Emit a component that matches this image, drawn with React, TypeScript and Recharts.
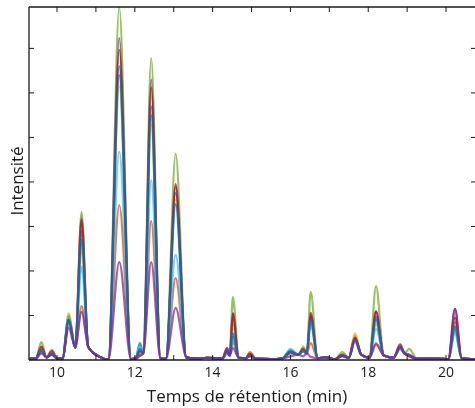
import { Label, Line, LineChart, XAxis, YAxis } from "recharts";

// retention times of the curve knots (min)
const knotTimes = [
  9.3, 9.45, 9.6, 9.73, 9.87, 10.0, 10.14, 10.3, 10.47, 10.63,
  10.8, 10.95, 11.1, 11.32, 11.6, 11.9, 12.02, 12.13, 12.22, 12.42,
  12.66, 12.8, 13.05, 13.32, 13.6, 13.85, 14.25, 14.37, 14.44, 14.52,
  14.67, 14.85, 14.96, 15.1, 15.5, 15.8, 16.0, 16.2, 16.33, 16.42,
  16.52, 16.7, 16.9, 17.15, 17.33, 17.5, 17.66, 17.82, 18.03, 18.2,
  18.4, 18.65, 18.82, 18.93, 19.05, 19.25, 19.8, 20.06, 20.23, 20.4,
  20.75,
];

// shared baseline / valley levels, null where a peak apex sits
const baseLevels: (number | null)[] = [
  0.03, 0.03, null, 0.06, null, 0.03, 0.03, null, 0.28, null,
  0.3, 0.15, 0.07, 0.01, null, 0.02, 0.03, null, 0.15, null,
  0.03, 0.03, null, 0.06, 0.03, 0.05, 0.03, null, 0.1, null,
  0.05, 0.04, null, 0.03, 0.02, 0.04, null, 0.12, null, 0.15,
  null, 0.04, 0.06, 0.02, null, 0.05, null, 0.12, 0.05, null,
  0.1, 0.05, null, 0.15, null, 0.03, 0.03, 0.02, null, 0.04,
  0.02,
];

// apex heights per sample, peaks in retention order
const greenPeaks = [0.4, 0.15, 1.0, 3.33, 7.93, 0.12, 6.78, 4.63, 0.2, 1.42, 0.1, 0.2, 0.3, 1.53, 0.18, 0.5, 1.66, 0.3, 0.25, 0.65];
const purplePeaks = [0.25, 0.15, 0.95, 3.2, 7.23, 0.1, 6.3, 3.89, 0.27, 1.05, 0.12, 0.15, 0.2, 1.0, 0.1, 0.5, 1.1, 0.35, 0.1, 1.15];
const redPeaks = [0.3, 0.2, 0.9, 3.15, 6.97, 0.2, 6.13, 3.95, 0.2, 1.05, 0.15, 0.18, 0.25, 1.06, 0.12, 0.5, 1.08, 0.3, 0.12, 0.95];
const bluePeaks = [0.2, 0.12, 0.85, 2.9, 6.6, 0.38, 5.7, 3.75, 0.15, 0.52, 0.12, 0.22, 0.22, 0.95, 0.1, 0.45, 0.97, 0.25, 0.1, 0.7];
const yellowPeaks = [0.3, 0.22, 1.05, 2.5, 6.15, 0.15, 5.28, 3.6, 0.2, 0.8, 0.18, 0.2, 0.25, 0.8, 0.12, 0.6, 0.8, 0.35, 0.12, 0.8];
const lightBluePeaks = [0.25, 0.15, 0.95, 2.1, 4.68, 0.3, 4.04, 2.36, 0.15, 0.5, 0.1, 0.25, 0.2, 0.85, 0.1, 0.4, 0.7, 0.25, 0.12, 0.6];
const orangePeaks = [0.2, 0.22, 0.85, 1.21, 3.48, 0.2, 3.12, 1.84, 0.2, 0.4, 0.18, 0.18, 0.2, 0.38, 0.12, 0.55, 0.38, 0.3, 0.1, 0.85];
const purple2Peaks = [0.15, 0.12, 0.72, 1.08, 2.2, 0.1, 2.2, 1.17, 0.27, 0.27, 0.08, 0.08, 0.08, 0.07, 0.08, 0.45, 0.35, 0.3, 0.08, 1.15];
const blue2Peaks = [0.22, 0.15, 0.9, 2.7, 6.4, 0.25, 5.5, 3.5, 0.18, 0.6, 0.1, 0.2, 0.2, 0.9, 0.1, 0.45, 0.9, 0.28, 0.1, 0.75];

const xTicks = [10, 11, 12, 13, 14, 15, 16, 17, 18, 19, 20];
const yTicks = [1, 2, 3, 4, 5, 6, 7];

const series = [
  { key: "s1", color: "#0072BD", peaks: bluePeaks },
  { key: "s2", color: "#D95319", peaks: orangePeaks },
  { key: "s3", color: "#EDB120", peaks: yellowPeaks },
  { key: "s4", color: "#7E2F8E", peaks: purplePeaks },
  { key: "s5", color: "#77AC30", peaks: greenPeaks },
  { key: "s6", color: "#4DBEEE", peaks: lightBluePeaks },
  { key: "s7", color: "#A2142F", peaks: redPeaks },
  { key: "s8", color: "#0072BD", peaks: blue2Peaks },
  { key: "s9", color: "#7E2F8E", peaks: purple2Peaks },
];

const data = (() => {
  let apex = 0;
  return knotTimes.map((t, i) => {
    const row: Record<string, number> = { t };
    const base = baseLevels[i];
    series.forEach((s) => {
      row[s.key] = base === null ? s.peaks[apex] : base;
    });
    if (base === null) apex++;
    return row;
  });
})();

const FONT = "'Open Sans', Lato, sans-serif";
const INK = "#1a1a1a";

const BottomTick = ({ x, y, payload }: any) => (
  <g>
    <line x1={x} x2={x} y1={y} y2={y - 5} stroke={INK} strokeWidth={1} />
    {payload.value % 2 === 0 && (
      <text x={x} y={y + 17} textAnchor="middle" fontSize={14} fontFamily={FONT} fill={INK}>
        {payload.value}
      </text>
    )}
  </g>
);

const TopTick = ({ x, y }: any) => (
  <line x1={x} x2={x} y1={y} y2={y + 5} stroke={INK} strokeWidth={1} />
);

const LeftTick = ({ x, y }: any) => (
  <line x1={x} x2={x + 5} y1={y} y2={y} stroke={INK} strokeWidth={1} />
);

const RightTick = ({ x, y }: any) => (
  <line x1={x - 5} x2={x} y1={y} y2={y} stroke={INK} strokeWidth={1} />
);

export default function App() {
  return (
    <div style={{ position: "fixed", left: 0, top: 0 }}>
      <LineChart width={477} height={408} data={data} margin={{ top: 0, right: 0, bottom: 0, left: 0 }}>
        <XAxis
          xAxisId="bottom"
          dataKey="t"
          type="number"
          domain={[9.28, 20.77]}
          allowDataOverflow
          ticks={xTicks}
          interval={0}
          height={48}
          tickSize={0}
          tickMargin={0}
          tickLine={false}
          tick={BottomTick}
          axisLine={{ stroke: INK, strokeWidth: 1.3 }}
        >
          <Label
            content={() => (
              <text x={247} y={402} textAnchor="middle" fontSize={17} fontFamily={FONT} fill={INK}>
                Temps de rétention (min)
              </text>
            )}
          />
        </XAxis>
        <XAxis
          xAxisId="top"
          orientation="top"
          dataKey="t"
          type="number"
          domain={[9.28, 20.77]}
          allowDataOverflow
          ticks={xTicks}
          interval={0}
          height={7}
          tickSize={0}
          tickMargin={0}
          tickLine={false}
          tick={TopTick}
          axisLine={{ stroke: INK, strokeWidth: 1.3 }}
        />
        <YAxis
          yAxisId="left"
          type="number"
          domain={[0, 7.93]}
          allowDataOverflow
          ticks={yTicks}
          interval={0}
          width={29}
          tickSize={0}
          tickMargin={0}
          tickLine={false}
          tick={LeftTick}
          axisLine={{ stroke: INK, strokeWidth: 1.3 }}
        >
          <Label
            content={() => (
              <text
                x={16}
                y={181}
                transform="rotate(-90 16 181)"
                textAnchor="middle"
                dominantBaseline="central"
                fontSize={17}
                fontFamily={FONT}
                fill={INK}
              >
                Intensité
              </text>
            )}
          />
        </YAxis>
        <YAxis
          yAxisId="right"
          orientation="right"
          type="number"
          domain={[0, 7.93]}
          allowDataOverflow
          ticks={yTicks}
          interval={0}
          width={1}
          tickSize={0}
          tickMargin={0}
          tickLine={false}
          tick={RightTick}
          axisLine={{ stroke: INK, strokeWidth: 1.3 }}
        />
        {series.map((s) => (
          <Line
            key={s.key}
            xAxisId="bottom"
            yAxisId="left"
            type="monotone"
            dataKey={s.key}
            stroke={s.color}
            strokeWidth={2.2}
            strokeOpacity={0.75}
            dot={false}
            activeDot={false}
            isAnimationActive={false}
          />
        ))}
      </LineChart>
    </div>
  );
}
